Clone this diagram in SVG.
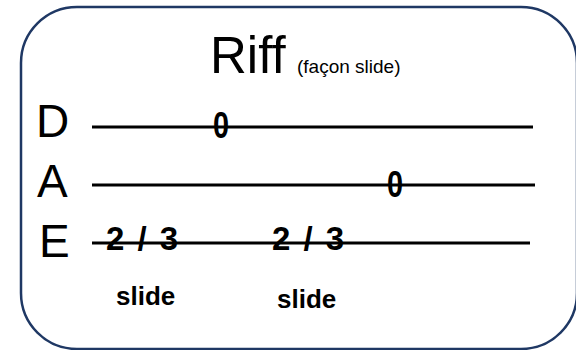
<svg xmlns="http://www.w3.org/2000/svg" width="576" height="350" viewBox="0 0 576 350">
<style>
.frame{fill:#fff;stroke:#1f3864;stroke-width:2.5}
.str{stroke:#000;stroke-width:3}
.lbl{font-family:"Liberation Sans",Arial,sans-serif;font-size:46px;fill:#000}
.num{font-family:"Liberation Sans",Arial,sans-serif;font-size:33px;font-weight:bold;fill:#000}
.zero{font-family:"Liberation Sans",Arial,sans-serif;font-size:37px;font-weight:bold;fill:#000}
.sl{font-family:"Liberation Sans",Arial,sans-serif;font-size:26px;font-weight:bold;fill:#000}
</style>
<rect width="576" height="350" fill="#fff"/>
<g id="frame"><rect class="frame" x="21" y="7" width="556" height="342" rx="56"/></g>
<g id="title">
<text x="210" y="73" font-family="Liberation Sans,Arial,sans-serif" font-size="51">Riff</text>
<text x="297" y="73" font-family="Liberation Sans,Arial,sans-serif" font-size="19">(façon slide)</text>
</g>
<g id="connectors">
<line class="str" x1="92" y1="127" x2="533" y2="127"/>
<line class="str" x1="92" y1="185" x2="535" y2="185"/>
<line class="str" x1="92" y1="243" x2="530" y2="243"/>
</g>
<g id="string-D"><text class="lbl" x="36" y="137">D</text></g>
<g id="string-A"><text class="lbl" x="37" y="197">A</text></g>
<g id="string-E"><text class="lbl" x="39" y="257">E</text></g>
<g id="note-D0"><text class="zero" transform="translate(221,138) scale(0.78,1)" text-anchor="middle">0</text></g>
<g id="note-A0"><text class="zero" transform="translate(395,197) scale(0.78,1)" text-anchor="middle">0</text></g>
<g id="note-E1"><text class="num" x="106" y="250" textLength="72" lengthAdjust="spacing">2 / 3</text></g>
<g id="note-E2"><text class="num" x="272" y="250" textLength="72" lengthAdjust="spacing">2 / 3</text></g>
<g id="slide1"><text class="sl" x="116" y="305">slide</text></g>
<g id="slide2"><text class="sl" x="277" y="308">slide</text></g>
</svg>
